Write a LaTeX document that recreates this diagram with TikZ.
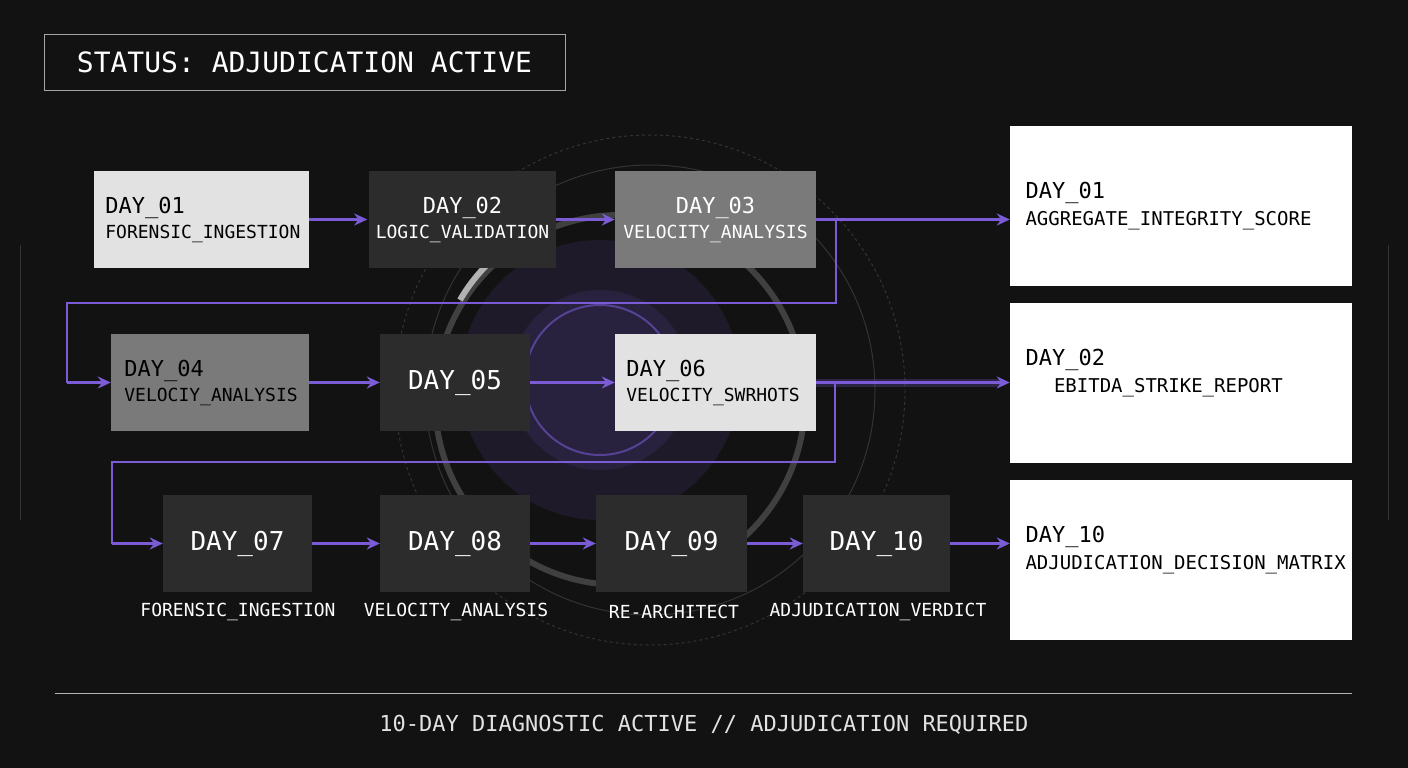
\documentclass[tikz,border=0pt]{standalone}
\usepackage{fontspec}
\setmainfont{DejaVu Sans Mono}
\usetikzlibrary{arrows.meta}
\definecolor{bg}{HTML}{121212}
\definecolor{pur}{HTML}{7B5CD6}
\definecolor{lgray}{HTML}{E2E2E2}
\definecolor{mgray}{HTML}{7A7A7A}
\definecolor{dgray}{HTML}{2C2C2C}
\tikzset{
 box/.style={minimum height=97pt,inner sep=0pt},
 light/.style={box,fill=lgray,text=black},
 mid/.style={box,fill=mgray,text=black},
 dark/.style={box,fill=dgray,text=white},
 panel/.style={fill=white,minimum width=342pt,minimum height=160pt,inner sep=0pt},
 arr/.style={draw=pur,line width=2.4pt,-{Stealth[length=13pt,width=12pt]}},
 wire/.style={draw=pur,line width=2.4pt},
 lab/.style={font=\fontsize{18}{25}\selectfont,align=left},
 big/.style={font=\fontsize{26}{28}\selectfont},
 sub/.style={text=white,font=\fontsize{18}{21}\selectfont},
 ptxt/.style={font=\fontsize{19}{27}\selectfont,align=left,anchor=west}
}
\begin{document}
\begin{tikzpicture}[x=1pt,y=-1pt]
\fill[bg] (0,0) rectangle (1408,768);
\useasboundingbox (0,0) rectangle (1408,768);
% background decoration
\fill[pur,opacity=0.12] (600,380) circle (140);
\fill[pur,opacity=0.12] (600,380) circle (90);
\draw[pur!70!black,line width=2pt] (600,380) circle (75);
\draw[gray!40!black,line width=1pt] (650,390) circle (225);
\draw[gray!50!black,line width=6pt] (620,400) circle (185);
\draw[gray!60,line width=6pt] (460,300) arc (210:250:170);
\draw[gray!40!black,line width=1pt,dashed] (650,390) circle (255);
\draw[gray!40!black] (20,245) -- (20,520) (1388,245) -- (1388,520);
% status
\node[draw=gray!70,line width=1pt,minimum width=521pt,minimum height=55pt,text=white,font=\fontsize{28}{30}\selectfont] (st) at (304.5,62.5) {STATUS: ADJUDICATION ACTIVE};
% row 1
\node[light,minimum width=215pt] (d1) at (201.5,219.5) {};
\node[lab,anchor=west] at (d1.west) [xshift=8pt] {\fontsize{22}{26}\selectfont DAY\_01\\FORENSIC\_INGESTION};
\node[dark,minimum width=187pt] (d2) at (462.5,219.5) {};
\node[lab,text=white,align=center] at (d2) {\fontsize{22}{26}\selectfont DAY\_02\\LOGIC\_VALIDATION};
\node[mid,minimum width=201pt] (d3) at (715.5,219.5) {};
\node[lab,text=white,align=center] at (d3) {\fontsize{22}{26}\selectfont DAY\_03\\VELOCITY\_ANALYSIS};
% row 2
\node[mid,minimum width=198pt] (d4) at (210,382.5) {};
\node[lab,anchor=west] at (d4.west) [xshift=10pt] {\fontsize{22}{26}\selectfont DAY\_04\\VELOCIY\_ANALYSIS};
\node[dark,minimum width=150pt,big] (d5) at (455,382.5) {DAY\_05};
\node[light,minimum width=201pt] (d6) at (715.5,382.5) {};
\node[lab,anchor=west] at (d6.west) [xshift=8pt] {\fontsize{22}{26}\selectfont DAY\_06\\VELOCITY\_SWRHOTS};
% row 3
\node[dark,minimum width=149pt,big] (d7) at (237.5,543.5) {DAY\_07};
\node[dark,minimum width=150pt,big] (d8) at (455,543.5) {DAY\_08};
\node[dark,minimum width=151pt,big] (d9) at (671.5,543.5) {DAY\_09};
\node[dark,minimum width=147pt,big] (d10) at (876.5,543.5) {DAY\_10};
\node[sub] (l7) at (238,612) {FORENSIC\_INGESTION};
\node[sub] (l8) at (456,612) {VELOCITY\_ANALYSIS};
\node[sub] (l9) at (674,612) {RE-ARCHITECT};
\node[sub] (l10) at (878,612) {ADJUDICATION\_VERDICT};
% panels
\node[panel] (p1) at (1181,206) {};
\node[ptxt] at (1022,206) {\fontsize{22}{27}\selectfont DAY\_01\\AGGREGATE\_INTEGRITY\_SCORE};
\node[panel] (p2) at (1181,383) {};
\node[ptxt] at (1022,373) {\fontsize{22}{27}\selectfont DAY\_02\\\hspace*{1.5em}EBITDA\_STRIKE\_REPORT};
\node[panel] (p3) at (1181,560) {};
\node[ptxt] at (1022,550) {\fontsize{22}{27}\selectfont DAY\_10\\\fontsize{19}{27}\selectfont ADJUDICATION\_DECISION\_MATRIX};
% arrows row 1
\path[arr] (d1.east) -- ++(58,0);
\path[arr] (d2.east) -- (d3.west);
\path[arr] (d3.east) -- (p1.west |- d3.east);
\path[wire] (836,219.5) -- (836,303) -- (67,303) -- (67,383);
\path[arr] (67,382.5) -- (d4.west);
% arrows row 2
\path[arr] (d4.east) -- (d5.west);
\path[arr] (d5.east) -- (d6.west);
\draw[pur,opacity=0.25,line width=8pt] (d6.east) -- (1000,382.5);
\path[arr] (d6.east) -- (p2.west |- d6.east);
\path[wire] (835,382.5) -- (835,462) -- (112,462) -- (112,544);
\path[arr] (112,543.5) -- (d7.west);
% arrows row 3
\path[arr] (d7.east) -- (d8.west);
\path[arr] (d8.east) -- (d9.west);
\path[arr] (d9.east) -- (d10.west);
\path[arr] (d10.east) -- (p3.west |- d10.east);
% footer
\draw[gray!60] (55,693) -- (1352,693);
\node[text=lgray,font=\fontsize{22}{24}\selectfont] (ft) at (704,725) {10-DAY DIAGNOSTIC ACTIVE // ADJUDICATION REQUIRED};
\end{tikzpicture}
\end{document}
